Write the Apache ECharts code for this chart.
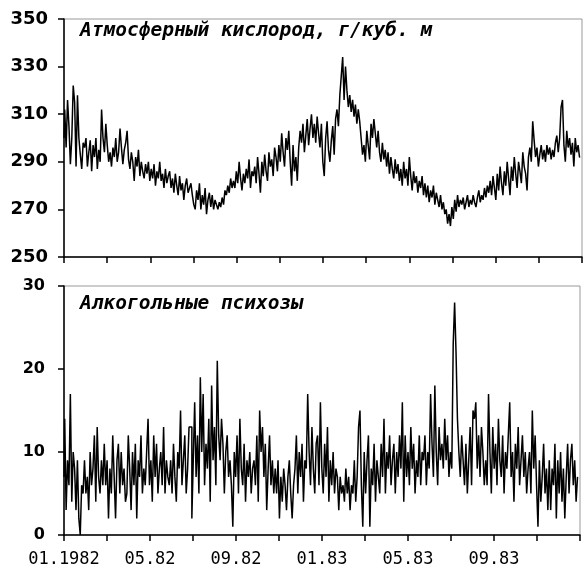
<!DOCTYPE html>
<html>
<head>
<meta charset="utf-8">
<script src="https://cdn.jsdelivr.net/npm/echarts@6/dist/echarts.min.js"></script>
<style>
  html, body { margin: 0; padding: 0; background: #fff; }
</style>
</head>
<body>
<div id="main" style="width: 583px;height: 572px;"></div>
<script>
  // readings every 2 days, starting 01.01.1982 (one row = one month)
  var dayStep = 2
  var xTickLabels = ['01.1982', '', '05.82', '', '09.82', '', '01.83', '', '05.83', '', '09.83', '', '']

  var oxygen = [
    300, 312, 296, 316, 305, 289, 300, 322, 315, 288, 318, 300, 293, 287, 298,
    296, 300, 288, 294, 299, 286, 297, 292, 300, 287, 295, 290, 312, 300, 294,
    306, 297, 290, 294, 288, 296, 292, 300, 290, 294, 304, 296, 289, 295, 298,
    303, 291, 287, 294, 290, 282, 292, 288, 295, 284, 290, 286, 283, 289, 285,
    290, 282, 287, 283, 289, 280, 286, 283, 290, 282, 285, 279, 287, 281, 284,
    286, 279, 283, 277, 285, 280, 276, 284, 278, 281, 274, 280, 283, 277, 279,
    281, 276, 272, 270, 278, 274, 281, 270, 276, 272, 279, 268, 274, 277, 271,
    276, 270, 274, 272, 270, 273, 271, 275, 272, 278, 276, 280, 277, 283, 279,
    282, 279, 286, 281, 290, 283, 278, 285, 281, 287, 283, 291, 279, 286, 284,
    288, 281, 292, 285, 277, 290, 284, 293, 286, 282, 294, 288, 291, 284, 296,
    292, 286, 297, 290, 302, 294, 288, 300, 295, 303, 290, 280, 297, 286, 292,
    282, 296, 303, 298, 306, 294, 301, 308, 297, 304, 310, 300, 306, 298, 309,
    302, 296, 306, 290, 284, 300, 307, 295, 290, 299, 305, 293, 308, 312, 305,
    318, 326, 334, 316, 330, 320, 313, 318, 311, 316, 309, 314, 306, 312, 307,
    300, 293, 297, 290, 303, 297, 291, 306, 300, 308, 302, 296, 303, 294, 290,
    298, 291, 295, 288, 294, 285, 292, 287, 283, 291, 285, 289, 282, 287, 280,
    290, 283, 287, 280, 292, 284, 278, 286, 281, 284, 277, 282, 279, 284, 276,
    281, 275, 280, 273, 278, 275, 280, 272, 277, 274, 271, 276, 270, 273, 268,
    270, 264, 268, 263, 271, 266, 274, 269, 276, 271, 274, 272, 275, 270, 273,
    276, 271, 274, 272, 276, 273, 271, 275, 278, 273, 276, 274, 279, 275, 280,
    277, 282, 276, 284, 279, 274, 285, 278, 288, 281, 276, 286, 280, 290, 283,
    276, 288, 282, 292, 285, 279, 290, 286, 281, 294, 288, 285, 278, 292, 296,
    290, 307, 299, 292, 296, 288, 293, 297, 291, 295, 290, 297, 293, 296, 291,
    295, 292, 298, 301, 294, 300, 313, 316, 297, 290, 303, 296, 300, 293, 298,
    288, 300, 294, 297, 292
  ]

  var psychoses = [
    7, 14, 3, 9, 6, 17, 4, 10, 8, 3, 9, 2, 0, 6, 5,
    9, 5, 7, 3, 10, 6, 8, 12, 4, 13, 7, 5, 9, 6, 11,
    6, 9, 2, 8, 5, 12, 7, 2, 9, 11, 5, 10, 6, 8, 4,
    5, 12, 8, 3, 10, 6, 11, 2, 9, 7, 12, 5, 8, 6, 10,
    14, 6, 9, 4, 12, 7, 11, 5, 8, 10, 6, 13, 5, 9, 7,
    6, 9, 5, 11, 7, 4, 10, 8, 15, 6, 9, 12, 5, 8, 13,
    13, 2, 9, 16, 7, 12, 5, 19, 10, 17, 6, 11, 8, 14, 4,
    18, 9, 13, 6, 21, 12, 9, 14, 11, 5, 10, 12, 7, 9, 6,
    1, 10, 7, 12, 5, 14, 8, 6, 11, 4, 9, 7, 10, 5, 8,
    9, 6, 12, 4, 15, 10, 13, 7, 11, 3, 8, 12, 6, 9, 5,
    8, 5, 9, 2, 7, 4, 8, 6, 3, 7, 9, 5, 2, 6, 8,
    12, 5, 10, 7, 11, 4, 9, 8, 17, 10, 6, 13, 8, 5, 11,
    12, 6, 16, 8, 5, 11, 7, 13, 4, 9, 6, 10, 5, 8, 7,
    3, 7, 5, 6, 4, 8, 5, 7, 3, 6, 5, 9, 4, 7, 13,
    15, 6, 1, 10, 5, 9, 12, 1, 8, 6, 11, 4, 9, 7, 5,
    11, 7, 14, 5, 10, 8, 12, 6, 9, 11, 5, 10, 7, 12, 8,
    16, 4, 12, 7, 10, 6, 13, 8, 11, 5, 9, 7, 12, 6, 10,
    9, 12, 6, 10, 8, 17, 11, 7, 18, 10, 6, 13, 9, 11, 8,
    14, 9, 12, 7, 10, 8, 23, 28, 22, 14, 10, 7, 12, 9, 6,
    11, 5, 9, 13, 6, 15, 14, 16, 8, 12, 7, 13, 10, 6, 9,
    6, 17, 10, 5, 13, 8, 11, 6, 14, 9, 7, 12, 5, 10, 8,
    12, 16, 7, 10, 4, 11, 8, 13, 6, 9, 12, 7, 10, 5, 8,
    10, 5, 15, 8, 12, 6, 1, 9, 4, 7, 11, 5, 8, 3, 9,
    3, 8, 6, 11, 2, 9, 5, 10, 4, 8, 2, 7, 11, 5, 9,
    11, 6, 9, 4, 7
  ]

  // x in months since 01.1982
  function toPairs(arr) {
    return arr.map(function (v, i) {
      return [i * dayStep / 30.4375, v]
    })
  }

  var xAxisBase = {
    type: 'value',
    min: 0,
    max: 24,
    interval: 2,
    axisLine: { lineStyle: { color: '#000', width: 1.5 } },
    axisTick: { show: true, inside: false, length: 6, lineStyle: { color: '#000', width: 1.5 } },
    splitLine: { show: false }
  }

  var yAxisBase = {
    type: 'value',
    axisLine: { show: true, lineStyle: { color: '#000', width: 1.5 } },
    axisTick: { show: true, inside: false, length: 6, lineStyle: { color: '#000', width: 1.5 } },
    splitLine: { show: false }
  }

  var titleFont = { fontFamily: 'DejaVu Sans Mono', fontStyle: 'italic', fontWeight: 'bold', fontSize: 19.5, lineHeight: 20, color: '#000' }

  var chart = echarts.init(document.getElementById('main'))
  chart.setOption({
    animation: false,
    backgroundColor: '#fff',
    title: [{
      text: 'Атмосферный кислород, г/куб. м',
      left: 80, top: 21, padding: 0,
      textStyle: titleFont
    }, {
      text: 'Алкогольные психозы',
      left: 80, top: 294, padding: 0,
      textStyle: titleFont
    }],
    grid: [
      { left: 64, right: 1, top: 19, height: 238, show: true, borderColor: '#999', borderWidth: 1 },
      { left: 64, right: 1, top: 286, height: 249, show: true, borderColor: '#999', borderWidth: 1 }
    ],
    xAxis: [
      Object.assign({}, xAxisBase, { gridIndex: 0, axisLabel: { show: false } }),
      Object.assign({}, xAxisBase, {
        gridIndex: 1,
        axisLabel: {
          margin: 16,
          fontFamily: 'DejaVu Sans Mono', fontSize: 17, color: '#000',
          formatter: function (v) { return xTickLabels[Math.round(v / 2)] || '' }
        }
      })
    ],
    yAxis: [
      Object.assign({}, yAxisBase, {
        gridIndex: 0, min: 250, max: 350, interval: 20,
        axisLabel: { margin: 16, fontFamily: 'DejaVu Sans', fontWeight: 'bold', fontSize: 18, color: '#000' }
      }),
      Object.assign({}, yAxisBase, {
        gridIndex: 1, min: 0, max: 30, interval: 10,
        axisLabel: { margin: 19, fontFamily: 'DejaVu Sans', fontWeight: 'bold', fontSize: 16, color: '#000' }
      })
    ],
    series: [{
      name: 'oxygen',
      type: 'line',
      xAxisIndex: 0, yAxisIndex: 0,
      step: 'middle',
      symbol: 'none',
      data: toPairs(oxygen),
      lineStyle: { color: '#000', width: 1.5 }
    }, {
      name: 'psychoses',
      type: 'line',
      xAxisIndex: 1, yAxisIndex: 1,
      step: 'middle',
      symbol: 'none',
      data: toPairs(psychoses),
      lineStyle: { color: '#000', width: 1.5 }
    }]
  })
</script>
</body>
</html>
